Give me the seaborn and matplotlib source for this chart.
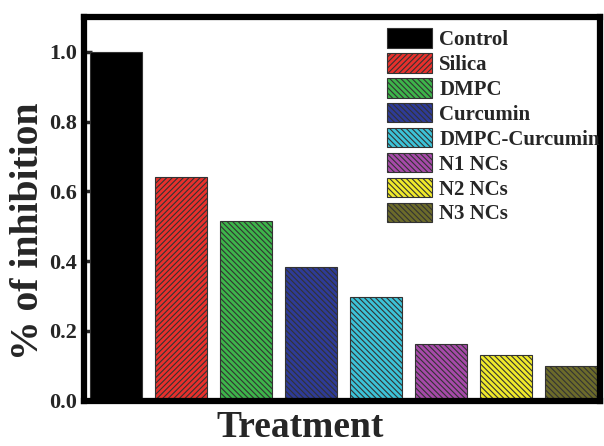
# Bar chart of % inhibition for each treatment
import numpy as np
import pandas as pd
import matplotlib.pyplot as plt
import seaborn as sns

sns.set_theme(style="ticks")
plt.rcParams['font.family'] = ['Liberation Serif', 'DejaVu Serif']
plt.rcParams['font.weight'] = 'bold'
plt.rcParams['hatch.linewidth'] = 0.8

treatments = ["Control", "Silica", "DMPC", "Curcumin", "DMPC-Curcumin",
              "N1 NCs", "N2 NCs", "N3 NCs"]
inhibition = [1.0, 0.642, 0.516, 0.383, 0.297, 0.163, 0.131, 0.100]
colors = ["#000000", "#e8302c", "#3db54a", "#2e3b97", "#3cc3d8",
          "#a64aa9", "#f0ea2a", "#6c6b2a"]
hatches = ["", "//////", "\\\\\\\\\\\\", "\\\\\\\\\\\\", "\\\\\\\\\\\\",
           "\\\\\\\\\\\\", "\\\\\\\\\\\\", "\\\\\\\\\\\\"]

data = pd.DataFrame({"Treatment": treatments, "Inhibition": inhibition})

fig, ax = plt.subplots(figsize=(6.04, 4.46), dpi=100)
sns.barplot(data=data, x="Treatment", y="Inhibition", hue="Treatment",
            palette=colors, dodge=False, legend=False, width=0.8,
            saturation=1, edgecolor="#333333", linewidth=0.8, ax=ax)

handles = []
for cont, h in zip(ax.containers, hatches):
    for bar in cont.patches:
        bar.set_hatch(h)
    handles.append(cont.patches[0])

ax.legend(handles, treatments, loc="upper right", frameon=False,
          prop={'weight': 'bold', 'size': 15}, handlelength=2.2,
          handleheight=1.05, handletextpad=0.33, labelspacing=0.15,
          borderaxespad=0, borderpad=0, bbox_to_anchor=(1.0, 0.97))

ax.set_xlim(-0.5, 7.44)
ax.set_ylim(0, 1.1)
ax.set_yticks(np.arange(0, 1.01, 0.2))
ax.set_yticklabels(["%.1f" % t for t in np.arange(0, 1.01, 0.2)],
                   fontsize=16, fontweight='bold')
ax.set_xticks([])
ax.tick_params(axis='y', direction='in', length=6, width=2.5, pad=5)

for s in ax.spines.values():
    s.set_linewidth(4.5)
    s.set_color("black")

ax.set_xlabel("Treatment", fontsize=27, fontweight='bold')
ax.set_ylabel("% of inhibition", fontsize=28.5, fontweight='bold')
ax.xaxis.set_label_coords(0.419, -0.096, transform=ax.transAxes)
ax.xaxis.label.set_va('baseline')
ax.yaxis.set_label_coords(-0.108, 0.44, transform=ax.transAxes)
ax.yaxis.label.set_va('center')

plt.subplots_adjust(left=0.139, right=0.993, top=0.962, bottom=0.102)
plt.savefig("out.png", dpi=100)
